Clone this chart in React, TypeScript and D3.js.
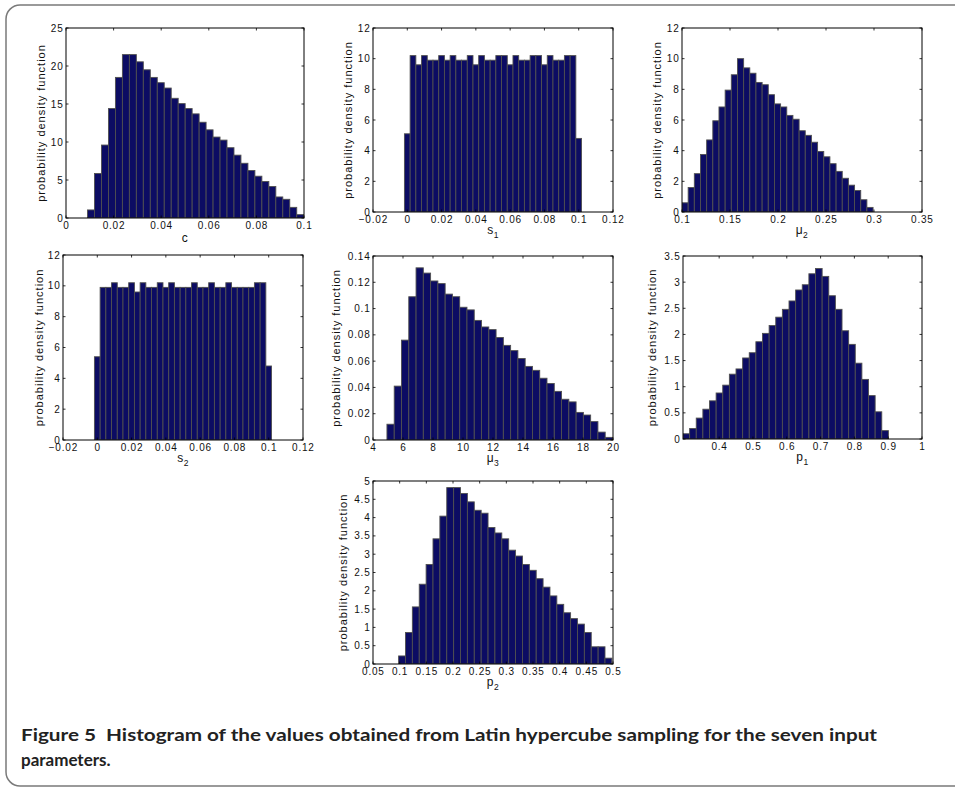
import React from "react";
import * as d3 from "d3";

// ---------- data (densities) ----------
const cDensity = [1.06, 5.85, 9.6, 14.4, 18.5, 21.5, 21.5, 20.55, 19.5, 18.5, 17.8, 17.1, 15.75, 15.05, 14.4, 13.7, 12.6, 11.6, 10.65, 10.25, 9.25, 8.27, 7.2, 6.25, 5.5, 4.8, 4.15, 2.77, 2.46, 1.4, 0.44];
const s1Density = [5.1, 10.2, 9.6, 10.2, 9.9, 9.9, 10.2, 9.9, 10.2, 9.9, 9.9, 10.2, 9.6, 10.2, 9.9, 9.9, 10.2, 10.2, 9.6, 10.2, 9.9, 9.9, 10.2, 10.2, 9.6, 10.2, 9.9, 9.9, 10.2, 10.2, 4.8];
const mu2Density = [0.6, 1.6, 2.5, 3.75, 4.7, 5.95, 6.85, 7.95, 8.95, 10.0, 9.4, 9.05, 8.45, 8.3, 7.65, 7.05, 6.85, 6.3, 6.05, 5.3, 5.0, 4.55, 3.95, 3.6, 3.15, 2.65, 2.2, 1.75, 1.4, 0.8, 0.3];
const s2Density = [5.4, 9.9, 9.9, 10.2, 9.9, 9.9, 10.2, 9.6, 10.2, 9.9, 9.9, 10.2, 9.9, 10.2, 9.9, 9.9, 9.9, 10.2, 9.9, 9.9, 10.2, 9.9, 9.9, 10.2, 9.9, 9.9, 9.9, 9.9, 10.2, 10.2, 4.8];
const mu3Density = [0.012, 0.041, 0.076, 0.109, 0.131, 0.127, 0.121, 0.119, 0.111, 0.109, 0.101, 0.099, 0.091, 0.086, 0.084, 0.078, 0.072, 0.068, 0.062, 0.056, 0.053, 0.047, 0.043, 0.037, 0.031, 0.029, 0.021, 0.019, 0.014, 0.006, 0.002];
const p1Density = [0.1, 0.2, 0.4, 0.57, 0.73, 0.88, 1.03, 1.24, 1.34, 1.55, 1.65, 1.86, 2.02, 2.17, 2.33, 2.48, 2.64, 2.85, 2.95, 3.16, 3.26, 3.11, 2.74, 2.48, 2.07, 1.81, 1.45, 1.14, 0.83, 0.52, 0.16];
const p2Density = [0.22, 0.86, 1.56, 2.18, 2.72, 3.42, 4.04, 4.82, 4.82, 4.66, 4.43, 4.2, 4.12, 3.73, 3.58, 3.42, 3.11, 2.95, 2.72, 2.56, 2.33, 2.1, 1.86, 1.63, 1.4, 1.24, 1.09, 0.86, 0.47, 0.47, 0.16];

// bin start (left edge of first bin) and bin width, per parameter
const cBins = [0.00905, 0.00293];
const s1Bins = [-0.00167, 0.003333];
const mu2Bins = [0.1, 0.00642];
const s2Bins = [-0.00167, 0.003333];
const mu3Bins = [4.93, 0.485];
const p1Bins = [0.293, 0.0196];
const p2Bins = [0.098, 0.0129];

// tick values
const cXTicks = [0, 0.02, 0.04, 0.06, 0.08, 0.1];
const sXTicks = [-0.02, 0, 0.02, 0.04, 0.06, 0.08, 0.1, 0.12];
const mu2XTicks = [0.1, 0.15, 0.2, 0.25, 0.3, 0.35];
const mu3XTicks = [4, 6, 8, 10, 12, 14, 16, 18, 20];
const p1XTicks = [0.4, 0.5, 0.6, 0.7, 0.8, 0.9, 1];
const p2XTicks = [0.05, 0.1, 0.15, 0.2, 0.25, 0.3, 0.35, 0.4, 0.45, 0.5];

const cYTicks = [0, 5, 10, 15, 20, 25];
const twelveYTicks = [0, 2, 4, 6, 8, 10, 12];
const mu3YTicks = [0, 0.02, 0.04, 0.06, 0.08, 0.1, 0.12, 0.14];
const p1YTicks = [0, 0.5, 1, 1.5, 2, 2.5, 3, 3.5];
const p2YTicks = [0, 0.5, 1, 1.5, 2, 2.5, 3, 3.5, 4, 4.5, 5];

const labels = [["c", ""], ["s", "1"], ["μ", "2"], ["s", "2"], ["μ", "3"], ["p", "1"], ["p", "2"]];
const yTitle = "probability density function";
const captionLine1 = "Figure 5\u00a0\u00a0Histogram of the values obtained from Latin hypercube sampling for the seven input";
const captionLine2 = "parameters.";

const panels = [
  { values: cDensity, bins: cBins, xDomain: [0, 0.1], xTicks: cXTicks, yDomain: [0, 25], yTicks: cYTicks, label: labels[0] },
  { values: s1Density, bins: s1Bins, xDomain: [-0.02, 0.12], xTicks: sXTicks, yDomain: [0, 12], yTicks: twelveYTicks, label: labels[1] },
  { values: mu2Density, bins: mu2Bins, xDomain: [0.1, 0.35], xTicks: mu2XTicks, yDomain: [0, 12], yTicks: twelveYTicks, label: labels[2] },
  { values: s2Density, bins: s2Bins, xDomain: [-0.02, 0.12], xTicks: sXTicks, yDomain: [0, 12], yTicks: twelveYTicks, label: labels[3] },
  { values: mu3Density, bins: mu3Bins, xDomain: [4, 20], xTicks: mu3XTicks, yDomain: [0, 0.14], yTicks: mu3YTicks, label: labels[4] },
  { values: p1Density, bins: p1Bins, xDomain: [0.293, 1], xTicks: p1XTicks, yDomain: [0, 3.5], yTicks: p1YTicks, label: labels[5] },
  { values: p2Density, bins: p2Bins, xDomain: [0.05, 0.5], xTicks: p2XTicks, yDomain: [0, 5], yTicks: p2YTicks, label: labels[6] },
];

// ---------- layout ----------
const layout = [
  { x: 66, y: 28, w: 238, h: 190, yl: 25, xl: 24 },
  { x: 373, y: 28, w: 240, h: 184, yl: 25, xl: 22 },
  { x: 682, y: 28, w: 240, h: 184, yl: 25, xl: 22 },
  { x: 63, y: 255, w: 240, h: 185, yl: 24, xl: 22 },
  { x: 373, y: 256, w: 240, h: 184, yl: 37, xl: 22 },
  { x: 683, y: 256, w: 239, h: 183, yl: 31, xl: 22 },
  { x: 373, y: 481, w: 240, h: 183, yl: 30, xl: 22 },
];

const FONT = "'Liberation Sans', Arial, Helvetica, sans-serif";
const BAR_FILL = "#0c0c63";
const BAR_STROKE = "#505050";

function fmt(v: number) {
  const s = d3.format("~g")(v);
  return s.replace("-", "−");
}

function Panel({ p, l, idx }: { p: any; l: any; idx: number }) {
  const xs = d3.scaleLinear().domain(p.xDomain).range([l.x, l.x + l.w]);
  const ys = d3.scaleLinear().domain(p.yDomain).range([l.y + l.h, l.y]);
  const bottom = l.y + l.h;
  const top = l.y;
  const left = l.x;
  const right = l.x + l.w;
  const tl = 2.5;
  const clipId = `clip${idx}`;
  const [start, width] = p.bins;
  return (
    <g>
      <clipPath id={clipId}>
        <rect x={left} y={top} width={l.w} height={l.h} />
      </clipPath>
      <g clipPath={`url(#${clipId})`}>
        {p.values.map((v: number, i: number) => {
          const x0 = xs(start + i * width);
          const x1 = xs(start + (i + 1) * width);
          return (
            <rect key={i} x={x0} y={ys(v)} width={x1 - x0} height={ys(0) - ys(v)}
              fill={BAR_FILL} stroke={BAR_STROKE} strokeWidth={0.9} />
          );
        })}
      </g>
      <rect x={left} y={top} width={l.w} height={l.h} fill="none" stroke="#000" strokeWidth={1} />
      {p.xTicks.map((t: number, i: number) => (
        <g key={"x" + i}>
          <line x1={xs(t)} x2={xs(t)} y1={bottom} y2={bottom - tl} stroke="#000" strokeWidth={0.8} />
          <line x1={xs(t)} x2={xs(t)} y1={top} y2={top + tl} stroke="#000" strokeWidth={0.8} />
          <text x={xs(t) + 0.4} y={bottom + 11} textAnchor="middle" fontSize={10} letterSpacing={0.8}
            fontFamily={FONT} fill="#111">{fmt(t)}</text>
        </g>
      ))}
      {p.yTicks.map((t: number, i: number) => (
        <g key={"y" + i}>
          <line x1={left} x2={left + tl} y1={ys(t)} y2={ys(t)} stroke="#000" strokeWidth={0.8} />
          <line x1={right} x2={right - tl} y1={ys(t)} y2={ys(t)} stroke="#000" strokeWidth={0.8} />
          <text x={left - 2.5} y={ys(t) + 3.5} textAnchor="end" fontSize={10} letterSpacing={0.8}
            fontFamily={FONT} fill="#111">{fmt(t)}</text>
        </g>
      ))}
      <text x={(left + right) / 2} y={bottom + l.xl} textAnchor="middle" fontSize={12} letterSpacing={0.5}
        fontFamily={FONT} fill="#111">
        {p.label[0]}
        {p.label[1] ? <tspan fontSize={8.5} dy={4}>{p.label[1]}</tspan> : null}
      </text>
      <text transform={`translate(${left - l.yl},${(top + bottom) / 2}) rotate(-90)`} textAnchor="middle"
        dominantBaseline="central" fontSize={11} letterSpacing={1} fontFamily={FONT} fill="#111">{yTitle}</text>
    </g>
  );
}

export default function App() {
  return (
    <svg width={955} height={790} style={{ position: "absolute", left: 0, top: 0, background: "#fff" }}>
      <rect x={0} y={0} width={955} height={790} fill="#fff" />
      <rect x={6} y={5} width={970} height={781} rx={14} ry={14} fill="none" stroke="#7a7a7a" strokeWidth={1.5} />
      {panels.map((p, i) => (
        <Panel key={i} p={p} l={layout[i]} idx={i} />
      ))}
      <text x={21} y={741} fontSize={17} fontWeight="bold" fontFamily="Lato, 'Open Sans', sans-serif" fill="#222"
        textLength={856} lengthAdjust="spacingAndGlyphs">
        {captionLine1}
      </text>
      <text x={21} y={766} fontSize={17} fontWeight="bold" fontFamily="Lato, 'Open Sans', sans-serif" fill="#222">
        {captionLine2}
      </text>
    </svg>
  );
}
